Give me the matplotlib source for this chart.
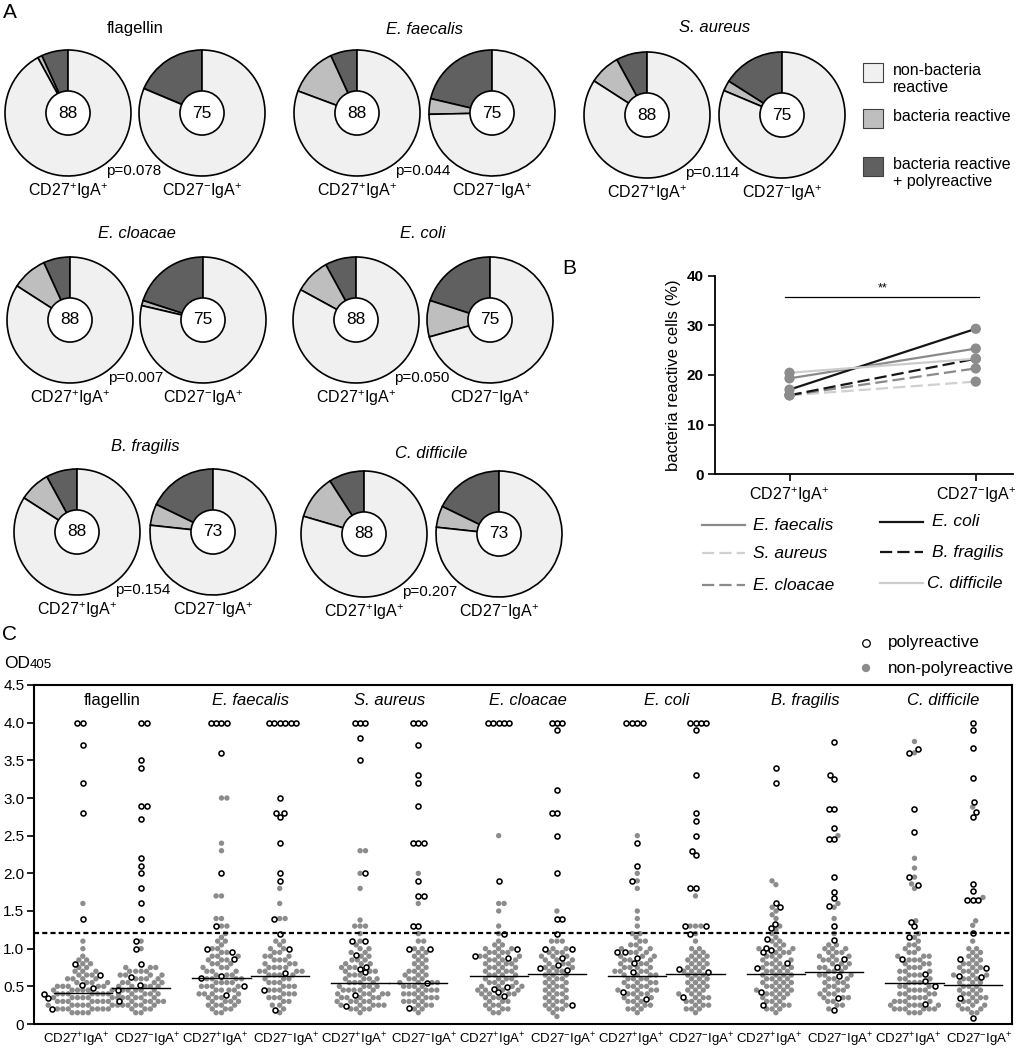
import numpy as np
import matplotlib
matplotlib.use('Agg')
import matplotlib.pyplot as plt
from matplotlib.patches import Circle, Rectangle
from matplotlib.lines import Line2D
from matplotlib import font_manager

plt.rcParams['font.family'] = ['Liberation Sans', 'DejaVu Sans']
plt.rcParams['mathtext.fontset'] = 'custom'
plt.rcParams['mathtext.rm'] = 'Liberation Sans'
plt.rcParams['mathtext.it'] = 'Liberation Sans:italic'
plt.rcParams['mathtext.bf'] = 'Liberation Sans:bold'

W, H = 1019, 1050
POS = r'CD27$^{+}$IgA$^{+}$'
NEG = r'CD27$^{-}$IgA$^{+}$'

# ---------------- data ----------------
antigens = ['flagellin', 'E. faecalis', 'S. aureus', 'E. cloacae', 'E. coli', 'B. fragilis', 'C. difficile']
italic = [False, True, True, True, True, True, True]

# pie counts: (bacteria reactive + polyreactive, bacteria reactive, non-bacteria reactive)
pie_pos = [(6, 1, 81), (6, 11, 71), (7, 7, 74), (6, 8, 74), (7, 8, 73), (7, 7, 74), (8, 10, 70)]
pie_neg = [(14, 0, 61), (16, 3, 56), (12, 2, 61), (15, 1, 59), (15, 7, 53), (13, 4, 56), (13, 4, 56)]
p_values = ['0.078', '0.044', '0.114', '0.007', '0.050', '0.154', '0.207']

# panel B line styles (bacteria only)
b_colors = ['#8a8a8a', '#d0d0d0', '#8a8a8a', '#151515', '#151515', '#cccccc']
b_dashed = [False, True, True, False, True, False]

# panel C: OD405 per clone, "value" or "valuexcount"
open_vals = [
    "4.0x2 3.7 3.2 2.8 1.4 0.8 0.65 0.52 0.48 0.45 0.40 0.35 0.2",
    "4.0x2 3.5 3.4 2.9x2 2.72 2.2 2.1 2.0 1.8 1.6 1.4 1.1 1.0 0.8 0.63 0.52 0.3",
    "4.0x4 3.6 2.0 1.3 1.0 0.95 0.86 0.64 0.61 0.5 0.39",
    "4.0x6 3.0 2.8x2 2.75 2.4 2.0 1.9 1.4 1.2 1.0 0.68 0.45 0.19",
    "4.0x3 3.8 3.5 2.0 1.1x2 0.92 0.76 0.73 0.69 0.38 0.24",
    "4.0x3 3.7 3.3 3.2 2.9 2.4x3 1.9 1.7x2 1.3x2 1.0x2 0.54 0.21",
    "4.0x5 1.9 1.2 1.0 0.9 0.87 0.49 0.47 0.42 0.37",
    "4.0x3 3.9 3.1 2.8x2 2.5 2.0 1.4x2 1.2 1.0x2 0.87 0.78 0.75 0.72 0.25",
    "4.0x4 2.4 2.1 1.9 0.95x2 0.88 0.81 0.69 0.43 0.33",
    "4.0x4 3.9 3.3 2.8 2.7 2.5 2.3 2.25 1.8x2 1.3x2 1.2 0.73 0.69 0.36",
    "3.4 3.2 1.6 1.55 1.33 1.28 1.13 1.01 0.98 0.95 0.81 0.75 0.42 0.25",
    "3.75 3.3 3.25 2.85x2 2.6 2.45x2 1.95 1.75 1.67 1.56 1.3 1.12 0.86 0.76 0.64 0.34 0.19",
    "3.65 3.6 2.85 2.55 1.95 1.85 1.35 1.3 1.16 0.86 0.66 0.57 0.51 0.27",
    "3.99 3.9 3.67 3.26 2.95 2.81 2.75 1.86 1.76 1.65x3 1.21 0.86 0.75 0.64 0.63 0.35 0.08",
]
grey_vals = [
    "1.6 1.1 1.0 0.9 0.85x2 0.8x2 0.75x2 0.7x3 0.65x3 0.6x4 0.55x4 0.5x5 0.45x6 0.4x7 0.35x7 0.3x7 0.25x7 0.2x7 0.15x4",
    "1.1 1.0 0.75x3 0.7x4 0.65x4 0.6x4 0.55x4 0.5x5 0.45x5 0.4x5 0.35x5 0.3x5 0.25x5 0.2x3 0.15x2",
    "3.0x2 2.4 2.3 1.7x2 1.4x2 1.3x2 1.2 1.15 1.1x2 1.05 1.0x2 0.95x2 0.9x3 0.85x3 0.8x3 0.75x3 0.7x3 0.65x3 "
    "0.6x4 0.55x4 0.5x4 0.45x4 0.4x4 0.35x4 0.3x4 0.25x4 0.2x3 0.15x2",
    "1.8 1.6 1.4x2 1.1x2 1.05 1.0x2 0.95x2 0.9x3 0.85x3 0.8x3 0.75x4 0.7x4 0.65x4 0.6x3 0.55x3 0.5x3 0.45x3 "
    "0.4x3 0.35x3 0.3x2 0.25x2 0.2 0.15",
    "2.3x2 2.0 1.8 1.38 1.3x3 1.2 1.1 1.05 1.0x2 0.95x2 0.9x2 0.85x3 0.8x3 0.75x3 0.7x3 0.65x3 0.6x4 0.55x4 "
    "0.5x4 0.45x5 0.4x5 0.35x5 0.3x5 0.25x5 0.2x4 0.15",
    "2.0 1.6 1.2 1.1x2 1.0x2 0.95x2 0.9x2 0.85x2 0.8x2 0.75x2 0.7x3 0.65x3 0.6x3 0.55x4 0.5x4 0.45x4 0.4x4 "
    "0.35x4 0.3x4 0.25x3 0.2x2 0.15",
    "2.5 1.6x2 1.5 1.3 1.2 1.1 1.05x2 1.0x3 0.95x4 0.9x4 0.85x4 0.8x4 0.75x4 0.7x4 0.65x4 0.6x4 0.55x4 0.5x4 "
    "0.45x4 0.4x4 0.35x3 0.3x3 0.25x3 0.2x3 0.15x2",
    "1.5 1.1x3 1.0x2 0.95x3 0.9x3 0.85x3 0.8x3 0.75x3 0.7x3 0.65x3 0.6x3 0.55x3 0.5x3 0.45x3 0.4x3 0.35x3 "
    "0.3x3 0.25x3 0.2x3 0.15 0.1",
    "2.5 2.0 1.9 1.8 1.5 1.4 1.3 1.2x2 1.15 1.1x2 1.05x2 1.0x3 0.95x3 0.9x3 0.85x3 0.8x3 0.75x4 0.7x4 0.65x4 "
    "0.6x4 0.55x4 0.5x4 0.45x4 0.4x4 0.35x3 0.3x3 0.25x3 0.2x3 0.15",
    "1.7 1.3x3 1.2 1.1 1.0x2 0.95x2 0.9x3 0.85x3 0.8x3 0.75x3 0.7x3 0.65x3 0.6x3 0.55x3 0.5x3 0.45x3 0.4x3 "
    "0.35x3 0.3x3 0.25x3 0.2x3 0.15",
    "1.9 1.85 1.55 1.5 1.45 1.4 1.3 1.25 1.2 1.15 1.1x2 1.05x2 1.0x3 0.95x3 0.9x3 0.85x3 0.8x3 0.75x4 0.7x4 "
    "0.65x4 0.6x4 0.55x4 0.5x4 0.45x4 0.4x4 0.35x3 0.3x3 0.25x3 0.2x3 0.15",
    "2.5 1.6 1.55 1.4 1.2 1.05x2 1.0x3 0.95x3 0.9x3 0.85x3 0.8x3 0.75x3 0.7x3 0.65x3 0.6x3 0.55x3 0.5x3 "
    "0.45x3 0.4x3 0.35x3 0.3x2 0.25x2 0.2",
    "3.75 3.6 2.2 2.07 1.95 1.86 1.8 1.37 1.2 1.15 1.1 1.05x2 1.0x2 0.95x2 0.9x3 0.85x3 0.8x3 0.75x3 0.7x3 "
    "0.65x3 0.6x3 0.55x3 0.5x3 0.45x4 0.4x4 0.35x4 0.3x4 0.25x5 0.2x6 0.15x3",
    "2.88 1.68 1.37 1.31 1.1 1.0x2 0.95x2 0.9x2 0.85x2 0.8x3 0.75x3 0.7x3 0.65x3 0.6x3 0.55x3 0.5x3 0.45x3 "
    "0.4x3 0.35x3 0.3x3 0.25x3 0.2x3 0.15x2",
]
medians = [0.415, 0.48, 0.607, 0.64, 0.54, 0.54, 0.637, 0.66, 0.637, 0.66, 0.66, 0.695, 0.54, 0.518]
cutoff = 1.21


def expand(s):
    out = []
    for tok in s.split():
        if 'x' in tok:
            v, n = tok.split('x')
            out += [float(v)] * int(n)
        else:
            out.append(float(tok))
    return np.array(out)


def swarm(y, d):
    # beeswarm offsets (pixels) for values y (pixels), min distance d
    order = np.argsort(y, kind='stable')
    xs = np.zeros(len(y))
    px, py = [], []
    for k, i in enumerate(order):
        yi = y[i]
        near = [(a, b) for a, b in zip(px, py) if abs(yi - b) < d]
        cands = [0.0]
        for a, b in near:
            dx = np.sqrt(d * d - (yi - b) ** 2)
            cands += [a - dx, a + dx]
        sign = 1 if k % 2 else -1
        cands.sort(key=lambda c: (round(abs(c), 3), sign * c))
        for c in cands:
            if all((c - a) ** 2 + (yi - b) ** 2 >= d * d - 1e-6 for a, b in near):
                xs[i] = c
                break
        px.append(xs[i])
        py.append(yi)
    return xs


fig = plt.figure(figsize=(W / 100, H / 100), dpi=100)

# overlay in pixel coordinates for labels/legends
ov = fig.add_axes([0, 0, 1, 1], zorder=10)
ov.set_xlim(0, W)
ov.set_ylim(H, 0)
ov.axis('off')
ov.patch.set_visible(False)

# ---------------- panel A: pies ----------------
pie_colors = ['#606060', '#bebebe', '#f0f0f0']
pie_centers = [((68, 113), (202, 113)), ((357, 113), (492, 113)), ((647, 115), (782, 115)),
               ((70, 320), (203, 320)), ((356, 320), (490, 320)),
               ((77, 532), (213, 532)), ((364, 534), (499, 534))]
title_y = [29, 29, 28, 233, 233, 447, 453]
R = 63.0
half = 67.0
for g in range(7):
    for k, counts in enumerate([pie_pos[g], pie_neg[g]]):
        cx, cy = pie_centers[g][k]
        ax = fig.add_axes([(cx - half) / W, 1 - (cy + half) / H, 2 * half / W, 2 * half / H])
        ax.pie(counts, colors=pie_colors, startangle=90, radius=1.0,
               wedgeprops=dict(edgecolor='black', linewidth=1.2))
        ax.add_patch(Circle((0, 0), 0.35, facecolor='white', edgecolor='black', lw=1.2, zorder=5))
        ax.text(0, 0, str(sum(counts)), ha='center', va='center', fontsize=12.5, zorder=6)
        ax.set_xlim(-half / R, half / R)
        ax.set_ylim(-half / R, half / R)
        ax.axis('off')
        ov.text(cx, cy + 78, POS if k == 0 else NEG, ha='center', va='center', fontsize=11.5)
    (x1, y1), (x2, y2) = pie_centers[g]
    ov.text((x1 + x2) / 2, title_y[g], antigens[g], ha='center', va='center', fontsize=12,
            style='italic' if italic[g] else 'normal')
    ov.text(x1 + 38, y1 + 58, 'p=' + p_values[g], ha='left', va='center', fontsize=11)

# pie legend
leg_a = ['non-bacteria\nreactive', 'bacteria reactive', 'bacteria reactive\n+ polyreactive']
for i, (lab, yy) in enumerate(zip(leg_a, [72, 118, 166])):
    ov.add_patch(Rectangle((863, yy - 9.5), 20, 19, facecolor=pie_colors[2 - i], edgecolor='#404040', lw=0.8))
    ov.text(893, yy - 9, lab, ha='left', va='top', fontsize=11.5, linespacing=1.15)

# ---------------- panel B ----------------
pct_pos = [100 * sum(c[:2]) / sum(c) for c in pie_pos[1:]]
pct_neg = [100 * sum(c[:2]) / sum(c) for c in pie_neg[1:]]
axb = fig.add_axes([715 / W, 1 - 474 / H, (1013 - 715) / W, (474 - 276) / H])
for i in range(6):
    ls = (0, (5.5, 2.3)) if b_dashed[i] else '-'
    axb.plot([0, 1], [pct_pos[i], pct_neg[i]], color=b_colors[i], lw=1.6, ls=ls, zorder=2)
axb.scatter([0] * 6 + [1] * 6, pct_pos + pct_neg, s=55, color='#8c8c8c', zorder=3, edgecolors='none')
axb.plot([-0.024, 1.015], [35.8, 35.8], color='black', lw=0.9)
axb.text(0.5, 36.3, '**', ha='center', va='bottom', fontsize=9)
axb.set_xlim(-0.4, 1.2)
axb.set_ylim(0, 40)
axb.set_yticks([0, 10, 20, 30, 40])
axb.set_yticklabels(['0', '10', '20', '30', '40'], fontweight='bold', fontsize=11)
axb.set_xticks([0, 1])
axb.set_xticklabels([POS, NEG], fontsize=11.5)
axb.tick_params(direction='out', length=5, width=1.2, pad=3)
axb.spines['top'].set_visible(False)
axb.spines['right'].set_visible(False)
axb.spines['left'].set_linewidth(1.3)
axb.spines['bottom'].set_linewidth(1.3)
axb.set_ylabel('bacteria reactive cells (%)', fontsize=12, labelpad=4)

# panel B legend
leg_b_pos = [(702, 745, 753, 525), (702, 745, 753, 553), (702, 745, 753, 585),
             (880, 923, 932, 522), (880, 923, 932, 552), (880, 923, 927, 583)]
for i in range(6):
    x0, x1, xt, yy = leg_b_pos[i]
    ls = (0, (5.5, 2.3)) if b_dashed[i] else '-'
    ov.add_line(Line2D([x0, x1], [yy, yy], color=b_colors[i], lw=1.6, ls=ls))
    ov.text(xt, yy, antigens[i + 1], ha='left', va='center', fontsize=12.5, style='italic')

# ---------------- panel C ----------------
axc = fig.add_axes([34 / W, 1 - 1024 / H, (1012 - 34) / W, (1024 - 685) / H])
gx = 138.6
py = (1024 - 685) / 4.5
axc.set_xlim(-(112 - 34) / gx, (1012 - 112) / gx)
axc.set_ylim(0, 4.5)
for c in range(14):
    g = c // 2
    xc = g + (-0.21 if c % 2 == 0 else 0.21)
    ov_ = expand(open_vals[c])
    gv = expand(grey_vals[c])
    allv = np.concatenate([gv, ov_])
    off = swarm(allv * py, 5.4) / gx
    n = len(gv)
    axc.scatter(xc + off[:n], gv, s=15, color='#8c8c8c', edgecolors='none', zorder=3)
    axc.scatter(xc + off[n:], ov_, s=13, facecolors='white', edgecolors='black', linewidths=1.15, zorder=4)
    axc.plot([xc - 0.21, xc + 0.21], [medians[c], medians[c]], color='black', lw=1.0, zorder=5)
axc.axhline(cutoff, color='black', lw=1.6, ls=(0, (2.3, 1.4)), zorder=6)
for g in range(7):
    axc.text(g, 4.3, antigens[g], ha='center', va='center', fontsize=12,
             style='italic' if italic[g] else 'normal')

names = {f.name for f in font_manager.fontManager.ttflist}
narrow = 'Liberation Sans Narrow' in names
for g in range(7):
    for k, lab in enumerate([POS, NEG]):
        xl = g + (-0.255 if k == 0 else 0.255)
        if narrow:
            axc.text(xl, -0.048, lab, transform=axc.get_xaxis_transform(), ha='center', va='center',
                     fontsize=11.5, family=['Liberation Sans Narrow', 'Liberation Sans'])
        else:
            axc.text(xl, -0.048, lab, transform=axc.get_xaxis_transform(), ha='center', va='center',
                     fontsize=9.5)

axc.set_xticks([])
yt = np.arange(0, 4.51, 0.5)
axc.set_yticks(yt)
axc.set_yticklabels(['0'] + ['%.1f' % v for v in yt[1:]], fontsize=11)
axc.tick_params(axis='y', direction='out', length=5, width=1.2, pad=2)
for sp in axc.spines.values():
    sp.set_linewidth(1.5)

ov.text(4, 668, 'OD', ha='left', va='baseline', fontsize=12.5)
ov.text(30, 668, '405', ha='left', va='baseline', fontsize=9.5)

ov.scatter([866], [643], s=30, facecolors='white', edgecolors='black', linewidths=0.9)
ov.scatter([866], [668], s=36, color='#8c8c8c', edgecolors='none')
ov.text(888, 643, 'polyreactive', ha='left', va='center', fontsize=12.3)
ov.text(888, 668, 'non-polyreactive', ha='left', va='center', fontsize=12.3)

# panel letters
ov.text(3, 12, 'A', ha='left', va='center', fontsize=15)
ov.text(562, 268, 'B', ha='left', va='center', fontsize=15)
ov.text(2, 634, 'C', ha='left', va='center', fontsize=15)

fig.savefig('out.png', dpi=100)
